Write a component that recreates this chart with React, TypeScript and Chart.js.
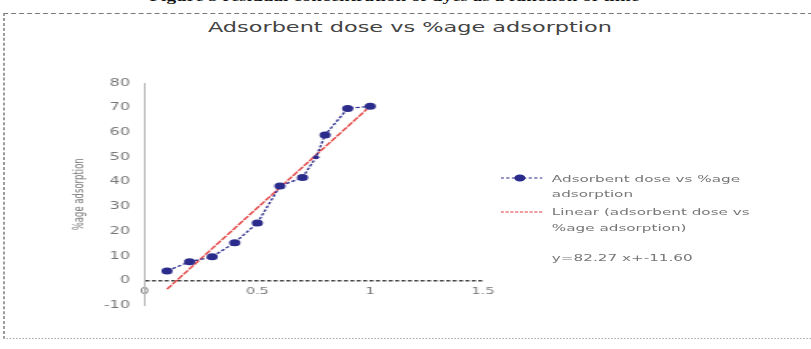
import React, { useEffect, useRef } from 'react';
import { Chart, registerables } from 'chart.js';

Chart.register(...registerables);

// ---- data ----
const doseX = [0.1, 0.2, 0.3, 0.4, 0.5, 0.6, 0.7, 0.76, 0.8, 0.9, 1.0];
const adsorptionY = [4, 7.7, 9.7, 15.4, 23.4, 38.3, 41.8, 50, 59, 69.7, 70.6];
const trendX = [0.1, 0.985];
const trendY = [-3.4, 69.4];

const chartTitle = 'Adsorbent dose vs %age adsorption';
const yAxisTitle = '%age adsorption';
const seriesLegendLines = ['Adsorbent dose vs %age', 'adsorption'];
const trendLegendLines = ['Linear (adsorbent dose vs', '%age adsorption)'];
const seriesLabel = 'Adsorbent dose vs %age adsorption';
const trendLabel = 'Linear (adsorbent dose vs %age adsorption)';
const equationText = 'y=82.27 x+-11.60';
const captionText = 'Figure 5 residual concentration of dyes as a function of time';

const xMin = 0;
const xMax = 1.5;
const xStep = 0.5;
const yMin = -10;
const yMax = 80;
const yStep = 10;

// ---- layout (inner coordinates, the whole picture is stretched horizontally) ----
const INNER_W = 507;
const H = 349;
const K = 811 / INNER_W;
const FONT = '"DejaVu Sans", sans-serif';
const BLUE = '#2b2b8c';
const RED = '#e23a3a';

export default function App() {
  const canvasRef = useRef<HTMLCanvasElement | null>(null);

  useEffect(() => {
    const canvas = canvasRef.current;
    if (!canvas) return;
    const pointSizes = doseX.map((x) => (x === 0.76 ? 2 : 3.5));
    const chart = new Chart(canvas, {
      type: 'scatter',
      data: {
        datasets: [
          {
            label: seriesLabel,
            data: doseX.map((x, i) => ({ x, y: adsorptionY[i] })),
            showLine: true,
            borderColor: BLUE,
            backgroundColor: BLUE,
            borderWidth: 1.3,
            borderDash: [2.5, 1.5],
            pointRadius: pointSizes,
            pointBorderWidth: 0,
            pointStyle: 'circle',
          },
          {
            label: trendLabel,
            data: trendX.map((x, i) => ({ x, y: trendY[i] })),
            showLine: true,
            borderColor: RED,
            backgroundColor: RED,
            borderWidth: 1.3,
            borderDash: [5, 1],
            pointRadius: 0,
          },
        ],
      },
      options: {
        animation: false,
        responsive: false,
        events: [],
        layout: { padding: { left: 44.3, right: 205, top: 83, bottom: 43.5 } },
        plugins: {
          legend: { display: false },
          title: { display: false },
          tooltip: { enabled: false },
        },
        scales: {
          x: {
            type: 'linear',
            position: { y: 0 } as any,
            min: xMin,
            max: xMax,
            ticks: {
              stepSize: xStep,
              padding: 5,
              color: '#777',
              font: { family: FONT, size: 9 },
              callback: (v: any) => String(Number(v)),
            },
            grid: { display: false, drawTicks: false },
            border: { display: false },
          },
          y: {
            type: 'linear',
            position: 'left',
            min: yMin,
            max: yMax,
            ticks: {
              stepSize: yStep,
              padding: 9,
              color: '#777',
              font: { family: FONT, size: 10 },
            },
            grid: {
              display: true,
              drawTicks: false,
              color: (ctx: any) => (ctx.tick && ctx.tick.value === 0 ? '#444' : 'rgba(0,0,0,0)'),
              lineWidth: (ctx: any) => (ctx.tick && ctx.tick.value === 0 ? 1.5 : 0),
            },
            border: { display: true, color: '#b5b5b5', width: 1, dash: [2.5, 1.5] },
            title: {
              display: true,
              text: yAxisTitle,
              color: '#777',
              font: { family: FONT, size: 8.5 },
              padding: 0,
            },
            afterFit: (s: any) => {
              s.width = 46;
            },
          },
        },
      },
    } as any);
    return () => chart.destroy();
  }, []);

  const textBase: React.CSSProperties = {
    position: 'absolute',
    fontFamily: FONT,
    whiteSpace: 'nowrap',
  };

  return (
    <div
      style={{
        position: 'fixed',
        left: 0,
        top: 0,
        width: INNER_W,
        height: H,
        transform: `scaleX(${K})`,
        transformOrigin: '0 0',
        background: '#fff',
        overflow: 'hidden',
      }}
    >
      {/* clipped figure caption at the very top */}
      <div
        style={{
          ...textBase,
          left: 84,
          width: 325,
          top: -9,
          textAlign: 'center',
          fontFamily: '"Liberation Serif", serif',
          fontWeight: 'bold',
          fontSize: 12,
          lineHeight: '12px',
          color: '#111',
        }}
      >
        {captionText}
      </div>

      {/* dashed frame */}
      <div
        style={{
          position: 'absolute',
          left: 1.5,
          top: 13,
          width: 580,
          height: 324,
          borderLeft: '1px dashed #666',
          borderTop: '1.5px dashed #777',
          borderBottom: '1px dotted #aaa',
        }}
      />

      {/* chart title */}
      <div
        style={{
          ...textBase,
          left: 256.3 - 150,
          width: 300,
          top: 18,
          textAlign: 'center',
          fontSize: 14,
          lineHeight: '18px',
          color: '#444',
        }}
      >
        {chartTitle}
      </div>

      <canvas
        ref={canvasRef}
        width={INNER_W}
        height={H}
        style={{ position: 'absolute', left: 0, top: 0, width: INNER_W, height: H }}
      />

      {/* legend: series */}
      <svg
        style={{ position: 'absolute', left: 313, top: 172 }}
        width={27}
        height={12}
      >
        <line x1={0} y1={6} x2={26} y2={6} stroke={BLUE} strokeWidth={1.2} strokeDasharray="2,1.5" />
        <circle cx={12} cy={6} r={3.5} fill={BLUE} />
      </svg>
      <div
        style={{
          ...textBase,
          left: 345,
          top: 170.5,
          fontSize: 9.5,
          lineHeight: '15px',
          color: '#777',
        }}
      >
        {seriesLegendLines.map((l, i) => (
          <div key={i}>{l}</div>
        ))}
      </div>

      {/* legend: trend line */}
      <svg
        style={{ position: 'absolute', left: 313, top: 206 }}
        width={27}
        height={12}
      >
        <line x1={0} y1={6} x2={26} y2={6} stroke={RED} strokeWidth={1.2} strokeDasharray="2,1" />
      </svg>
      <div
        style={{
          ...textBase,
          left: 345,
          top: 204,
          fontSize: 9.5,
          lineHeight: '16px',
          color: '#777',
        }}
      >
        {trendLegendLines.map((l, i) => (
          <div key={i}>{l}</div>
        ))}
      </div>

      {/* trendline equation */}
      <div
        style={{
          ...textBase,
          left: 345,
          top: 250,
          fontSize: 9.5,
          lineHeight: '16px',
          color: '#777',
        }}
      >
        {equationText}
      </div>
    </div>
  );
}
